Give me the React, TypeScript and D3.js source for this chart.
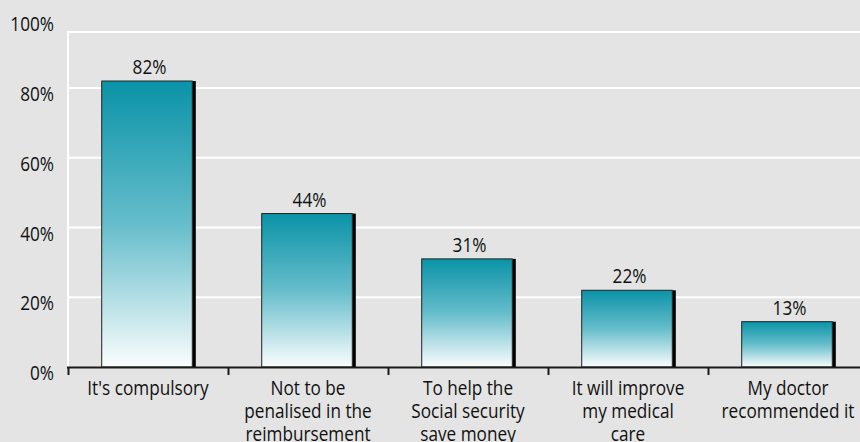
import React from "react";
import * as d3 from "d3";

const categories: string[][] = [
  ["It's compulsory"],
  ["Not to be", "penalised in the", "reimbursement"],
  ["To help the", "Social security", "save money"],
  ["It will improve", "my medical", "care"],
  ["My doctor", "recommended it"],
];
const values: number[] = [82, 44, 31, 22, 13];
const yTicks: number[] = [0, 20, 40, 60, 80, 100];
const gridTicks: number[] = [20, 40, 60, 80];

const W = 860;
const H = 442;
const FONT = "'Open Sans', 'Noto Sans', sans-serif";
const FS = 20;
const SX = 0.86;

function SText({ x, y, anchor, children }: { x: number; y: number; anchor: string; children: React.ReactNode }) {
  return (
    <g transform={`translate(${x},${y}) scale(${SX},1)`}>
      <text x={0} y={0} textAnchor={anchor} fontFamily={FONT} fontSize={FS} fill="#111111">
        {children}
      </text>
    </g>
  );
}

export default function App() {
  const left = 68;
  const right = 868;
  const y = d3.scaleLinear().domain([0, 100]).range([367, 18.25]);
  const x = d3
    .scaleBand<number>()
    .domain(d3.range(categories.length))
    .range([left, right])
    .paddingInner(0.415)
    .paddingOuter(0.2075);
  const band = d3.scaleBand<number>().domain(d3.range(categories.length)).range([left, right]);
  const frameTop = 32;

  return (
    <svg
      width={W}
      height={H}
      style={{ position: "absolute", left: 0, top: 0, display: "block" }}
    >
      <defs>
        <linearGradient id="barGrad" x1="0" y1="0" x2="0" y2="1">
          <stop offset="0" stopColor="#0a93a7" />
          <stop offset="0.5" stopColor="#66bdcb" />
          <stop offset="1" stopColor="#fafdfd" />
        </linearGradient>
      </defs>
      <rect x={0} y={0} width={W} height={H} fill="#e3e4e3" />
      {/* frame */}
      <line x1={left} x2={W} y1={frameTop} y2={frameTop} stroke="#ffffff" strokeWidth={2} />
      <line x1={left} x2={left} y1={frameTop - 1} y2={y(0)} stroke="#ffffff" strokeWidth={2} />
      {gridTicks.map((t) => (
        <line key={t} x1={left} x2={W} y1={y(t)} y2={y(t)} stroke="#ffffff" strokeWidth={2} />
      ))}
      {/* y labels */}
      {yTicks.map((t) => (
        <SText key={t} x={54} y={y(t) + 13} anchor="end">
          {`${t}%`}
        </SText>
      ))}
      {/* bars */}
      {values.map((v, i) => {
        const bx = (x(i) as number) + 0.5;
        const bw = x.bandwidth() - 3;
        const top = y(v);
        const h = y(0) - top;
        return (
          <g key={i}>
            <rect x={bx + bw} y={top} width={3.5} height={h} fill="#000000" />
            <rect x={bx} y={top} width={bw} height={h} fill="url(#barGrad)" stroke="#222" strokeWidth={1} />
            <SText x={bx + (bw + 3) / 2 + 1} y={top - 7} anchor="middle">
              {`${v}%`}
            </SText>
          </g>
        );
      })}
      {/* x axis */}
      <line x1={left - 1} x2={W} y1={y(0) + 0.5} y2={y(0) + 0.5} stroke="#1a1a1a" strokeWidth={2} />
      {d3.range(categories.length).map((i) => (
        <line
          key={i}
          x1={(band(i) as number) + 0.5}
          x2={(band(i) as number) + 0.5}
          y1={y(0)}
          y2={y(0) + 8}
          stroke="#1a1a1a"
          strokeWidth={2}
        />
      ))}
      {categories.map((lines, i) =>
        lines.map((ln, j) => (
          <SText key={`${i}-${j}`} x={(band(i) as number) + band.bandwidth() / 2} y={395 + j * 23} anchor="middle">
            {ln}
          </SText>
        ))
      )}
    </svg>
  );
}
